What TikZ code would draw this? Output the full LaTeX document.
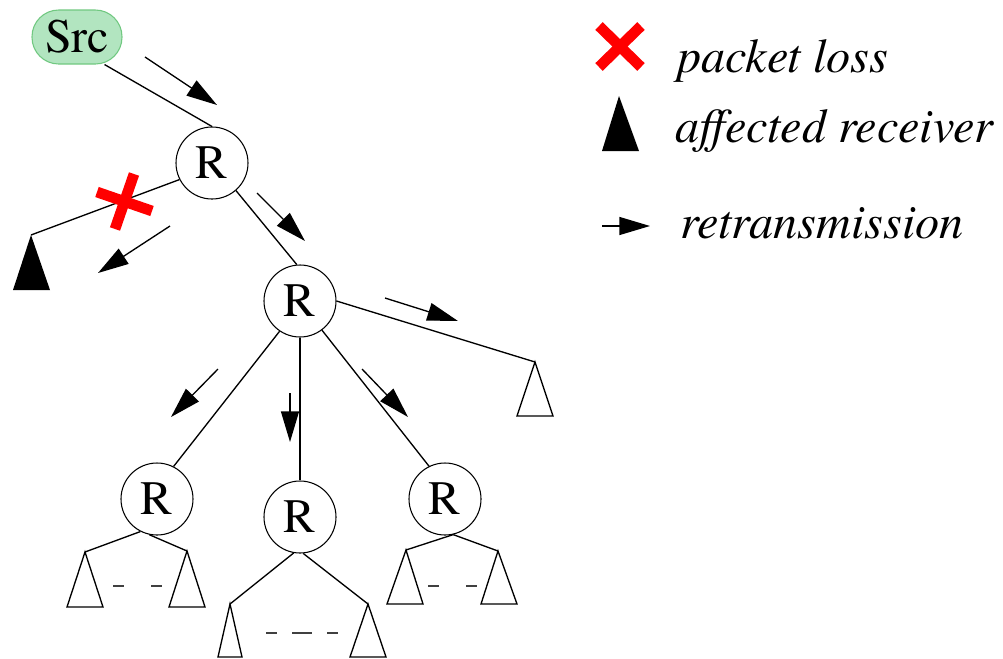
\documentclass[tikz,border=0pt]{standalone}
\usepackage{fontspec}
\setmainfont{TeX Gyre Termes}
\usetikzlibrary{arrows.meta}
\definecolor{srcfill}{RGB}{178,229,192}
\definecolor{srcdraw}{RGB}{112,200,128}
\definecolor{lossred}{RGB}{255,0,0}
\begin{document}
\begin{tikzpicture}[x=0.75pt,y=-0.75pt,
  srcbox/.style={rectangle,rounded corners=20pt,draw=srcdraw,fill=srcfill,line width=0.8pt,minimum width=67.5pt,minimum height=40.5pt,inner sep=0pt,font=\fontsize{36}{40}\selectfont},
  router/.style={circle,draw,line width=0.8pt,minimum size=54pt,inner sep=0pt,font=\fontsize{36}{40}\selectfont},
  edge/.style={line width=1pt},
  retx/.style={line width=1pt,-{Triangle[length=23pt,width=13.5pt]}},
  lossx/.style={draw=lossred,line width=8pt},
  subtree/.style={line width=1pt,line join=miter},
  gapdash/.style={line width=1.1pt,draw=black!75},
  lbl/.style={anchor=base west,inner sep=0pt,font=\fontsize{36.2}{40}\selectfont\itshape}
]
\useasboundingbox (0,0) rectangle (1003,658);

% nodes
\node[srcbox] (src) at (77,37) {Src};
\node[router] (r1) at (212,163) {R};
\node[router] (r2) at (300,301) {R};
\node[router] (r3) at (157,499) {R};
\node[router] (r4) at (300,517) {R};
\node[router] (r5) at (445,499) {R};

% subtree apexes
\coordinate (aff) at (31,235);
\coordinate (t2) at (535,362);
\coordinate (t3a) at (85,552);
\coordinate (t3b) at (187,551);
\coordinate (t4a) at (230,604);
\coordinate (t4b) at (368,604);
\coordinate (t5a) at (406,550);
\coordinate (t5b) at (498,551);

% edges
\draw[edge] (src.-45) -- (r1.north);
\draw[edge] (r1.207) -- (aff);
\draw[edge] (r1.-49) -- (r2.95);
\draw[edge] (r2.east) -- (t2);
\draw[edge] (r2.236) -- (r3.63);
\draw[edge] (r2.south) -- (r4.north);
\draw[edge] (r2.-53) -- (r5.116);
\draw[edge] (r3.243) -- (t3a);
\draw[edge] (r3.258) -- (t3b);
\draw[edge] (r4.260) -- (t4a);
\draw[edge] (r4.-85) -- (t4b);
\draw[edge] (r5.-77) -- (t5a);
\draw[edge] (r5.-77) -- (t5b);

% subtrees
\fill[black] (aff) -- ++(-18,55) -- ++(37,0) -- cycle;
\draw[subtree] (t2) -- ++(-18,54) -- ++(36,0) -- cycle;
\draw[subtree] (t3a) -- ++(-18,55) -- ++(36,0) -- cycle;
\draw[subtree] (t3b) -- ++(-18,56) -- ++(36,0) -- cycle;
\draw[subtree] (t4a) -- ++(-12,53) -- ++(24,0) -- cycle;
\draw[subtree] (t4b) -- ++(-18,53) -- ++(36,0) -- cycle;
\draw[subtree] (t5a) -- ++(-19,54) -- ++(36,0) -- cycle;
\draw[subtree] (t5b) -- ++(-17,53) -- ++(36,0) -- cycle;

% gap dashes
\draw[gapdash] (113,586) -- (124,586) (151,586) -- (162,586);
\draw[gapdash] (266,633) -- (277,633) (292,633) -- (312,633) (327,633) -- (338,633);
\draw[gapdash] (428,586) -- (439,586) (466,586) -- (477,586);

% retransmission arrows
\coordinate (a1s) at (145,57);  \coordinate (a1e) at (217,105);
\coordinate (a2s) at (170,226); \coordinate (a2e) at (98,273);
\coordinate (a3s) at (257,193); \coordinate (a3e) at (305,241);
\coordinate (a4s) at (385,298); \coordinate (a4e) at (458,321);
\coordinate (a5s) at (218,369); \coordinate (a5e) at (171,417);
\coordinate (a6s) at (290,393); \coordinate (a6e) at (290,442);
\coordinate (a7s) at (362,369); \coordinate (a7e) at (408,417);
\draw[retx] (a1s) -- (a1e);
\draw[retx] (a2s) -- (a2e);
\draw[retx] (a3s) -- (a3e);
\draw[retx] (a4s) -- (a4e);
\draw[retx] (a5s) -- (a5e);
\draw[retx] (a6s) -- (a6e);
\draw[retx] (a7s) -- (a7e);

% packet loss mark
\draw[lossx] (97,192) -- (152,211);
\draw[lossx] (134,174) -- (115,229);

% legend
\draw[lossx] (599,26) -- (641,67);
\draw[lossx] (641,26) -- (599,67);
\coordinate (legtri) at (619,96);
\fill[black] (legtri) -- ++(-17,55) -- ++(37,0) -- cycle;
\coordinate (legas) at (602,226); \coordinate (legae) at (650,226);
\draw[retx] (legas) -- (legae);
\node[lbl] (lloss) at (677,72) {packet loss};
\node[lbl] (laff) at (675,142) {affected receiver};
\node[lbl] (lret) at (680,238) {retransmission};
\end{tikzpicture}
\end{document}
